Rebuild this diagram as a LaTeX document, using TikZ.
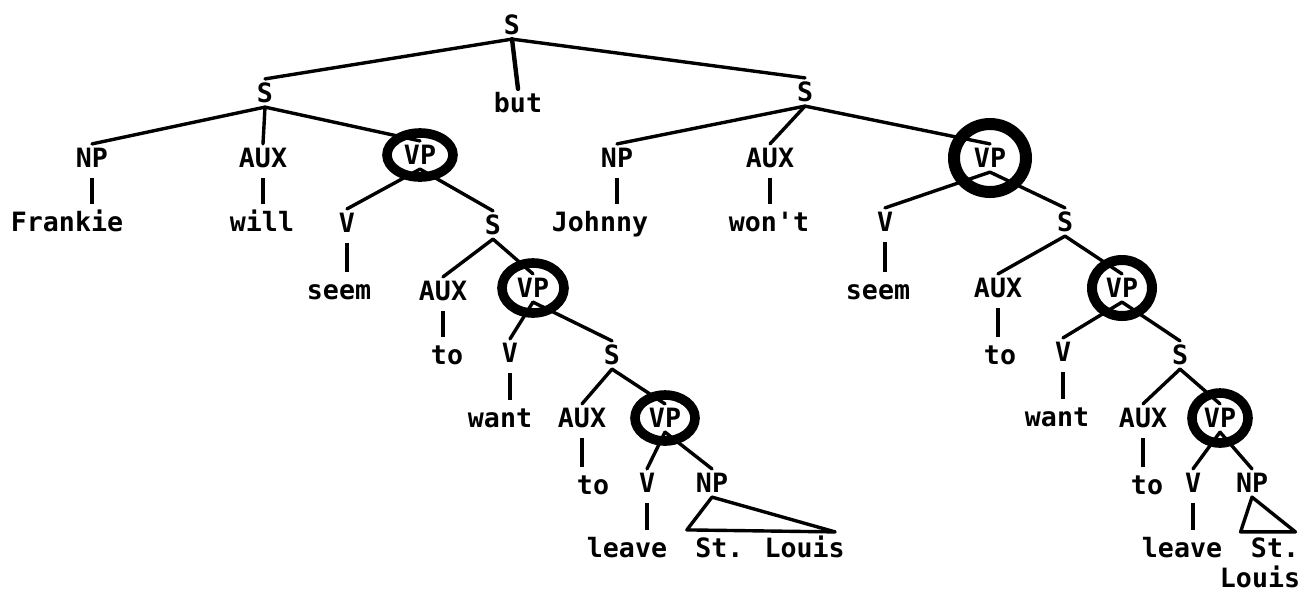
\documentclass[tikz,border=0pt]{standalone}
\usepackage{fontspec}
\newfontfamily\treefont{DejaVu Sans Mono}
\usepackage{tikz}
\tikzset{
  cat/.style={
    font=\treefont\bfseries\fontsize{13.3}{15}\selectfont,
    text height=9.7pt, text depth=0pt, inner sep=2pt
  },
  branch/.style={line width=1.7pt, line cap=round, line join=round},
  stem/.style={line width=2.4pt, shorten <=3pt, shorten >=2pt},
  vpring/.style={line width=#1},
  vpring/.default=4.8pt,
}

\begin{document}
\begin{tikzpicture}[x=0.5pt, y=-0.5pt]
  \useasboundingbox (0,0) rectangle (1312,591);

  % conjoined top S
  \node[cat] (s0)  at (512,25)  {S};
  \node[cat] (but) at (518,103) {but};

  % first conjunct
  \node[cat] (sL1)     at (265,93)  {S};
  \node[cat] (npL1)    at (92,158)  {NP};
  \node[cat] (frankie) at (67,222)  {Frankie};
  \node[cat] (auxL1)   at (263,158) {AUX};
  \node[cat] (will)    at (262,222) {will};
  \node[cat] (vpL1)    at (420,155) {VP};
  \node[cat] (vL1)     at (347,223) {V};
  \node[cat] (seemL)   at (339,290) {seem};
  \node[cat] (sL2)     at (493,225) {S};
  \node[cat] (auxL2)   at (443,291) {AUX};
  \node[cat] (toL2)    at (447,355) {to};
  \node[cat] (vpL2)    at (533,288) {VP};
  \node[cat] (vL2)     at (510,353) {V};
  \node[cat] (wantL)   at (500,418) {want};
  \node[cat] (sL3)     at (612,355) {S};
  \node[cat] (auxL3)   at (582,418) {AUX};
  \node[cat] (toL3)    at (593,485) {to};
  \node[cat] (vpL3)    at (665,418) {VP};
  \node[cat] (vL3)     at (647,483) {V};
  \node[cat] (leaveL)  at (627,548) {leave};
  \node[cat] (npL3)    at (712,483) {NP};
  \node[cat] (stlL)    at (770,548) {St. Louis};

  % second conjunct
  \node[cat] (sR1)    at (805,92)   {S};
  \node[cat] (npR1)   at (617,158)  {NP};
  \node[cat] (johnny) at (600,222)  {Johnny};
  \node[cat] (auxR1)  at (770,158)  {AUX};
  \node[cat] (wont)   at (769,222)  {won\textquotesingle t};
  \node[cat] (vpR1)   at (990,158)  {VP};
  \node[cat] (vR1)    at (885,222)  {V};
  \node[cat] (seemR)  at (878,290)  {seem};
  \node[cat] (sR2)    at (1065,222) {S};
  \node[cat] (auxR2)  at (998,288)  {AUX};
  \node[cat] (toR2)   at (1000,355) {to};
  \node[cat] (vpR2)   at (1122,288) {VP};
  \node[cat] (vR2)    at (1063,352) {V};
  \node[cat] (wantR)  at (1057,417) {want};
  \node[cat] (sR3)    at (1180,355) {S};
  \node[cat] (auxR3)  at (1143,418) {AUX};
  \node[cat] (toR3)   at (1147,485) {to};
  \node[cat] (vpR3)   at (1220,418) {VP};
  \node[cat] (vR3)    at (1193,483) {V};
  \node[cat] (leaveR) at (1182,548) {leave};
  \node[cat] (npR3)   at (1252,483) {NP};
  \node[cat] (stR)    at (1275,548) {St.};
  \node[cat] (louisR) at (1260,578) {Louis};

  % branches
  \draw[branch] (s0.south) -- (sL1.north);
  \draw[branch] (s0.south) -- (sR1.north);
  \draw[branch, line width=2.2pt] (s0.south) -- (but.north);

  \draw[branch] (sL1.south) -- (npL1.north);
  \draw[branch] (sL1.south) -- (auxL1.north);
  \draw[branch] (sL1.south) -- (vpL1.north);
  \draw[branch] (vpL1.south) -- (vL1.north);
  \draw[branch] (vpL1.south) -- (sL2.north);
  \draw[branch] (sL2.south) -- (auxL2.north);
  \draw[branch] (sL2.south) -- (vpL2.north);
  \draw[branch] (vpL2.south) -- (vL2.north);
  \draw[branch] (vpL2.south) -- (sL3.north);
  \draw[branch] (sL3.south) -- (auxL3.north);
  \draw[branch] (sL3.south) -- (vpL3.north);
  \draw[branch] (vpL3.south) -- (vL3.north);
  \draw[branch] (vpL3.south) -- (npL3.north);

  \draw[branch] (sR1.south) -- (npR1.north);
  \draw[branch] (sR1.south) -- (auxR1.north);
  \draw[branch] (sR1.south) -- (vpR1.north);
  \draw[branch] (vpR1.south) -- (vR1.north);
  \draw[branch] (vpR1.south) -- (sR2.north);
  \draw[branch] (sR2.south) -- (auxR2.north);
  \draw[branch] (sR2.south) -- (vpR2.north);
  \draw[branch] (vpR2.south) -- (vR2.north);
  \draw[branch] (vpR2.south) -- (sR3.north);
  \draw[branch] (sR3.south) -- (auxR3.north);
  \draw[branch] (sR3.south) -- (vpR3.north);
  \draw[branch] (vpR3.south) -- (vR3.north);
  \draw[branch] (vpR3.south) -- (npR3.north);

  % lexical stems
  \draw[stem] (npL1.south)  -- (npL1.south  |- frankie.north);
  \draw[stem] (auxL1.south) -- (auxL1.south |- will.north);
  \draw[stem] (vL1.south)   -- (vL1.south   |- seemL.north);
  \draw[stem] (auxL2.south) -- (auxL2.south |- toL2.north);
  \draw[stem] (vL2.south)   -- (vL2.south   |- wantL.north);
  \draw[stem] (auxL3.south) -- (auxL3.south |- toL3.north);
  \draw[stem] (vL3.south)   -- (vL3.south   |- leaveL.north);
  \draw[stem] (npR1.south)  -- (npR1.south  |- johnny.north);
  \draw[stem] (auxR1.south) -- (auxR1.south |- wont.north);
  \draw[stem] (vR1.south)   -- (vR1.south   |- seemR.north);
  \draw[stem] (auxR2.south) -- (auxR2.south |- toR2.north);
  \draw[stem] (vR2.south)   -- (vR2.south   |- wantR.north);
  \draw[stem] (auxR3.south) -- (auxR3.south |- toR3.north);
  \draw[stem] (vR3.south)   -- (vR3.south   |- leaveR.north);

  % unanalysed NPs
  \draw[branch] (npL3.south) -- ([xshift=-2pt,yshift=2pt]stlL.north west)
    -- ([xshift=-7pt,yshift=1pt]stlL.north east) -- cycle;
  \draw[branch] (npR3.south) -- ([xshift=-3pt,yshift=1pt]stR.north west)
    -- ([xshift=-4pt,yshift=1pt]stR.north east) -- cycle;

  % circled VPs
  \draw[vpring] (vpL1) ellipse [x radius=16.5pt, y radius=11pt];
  \draw[vpring] (vpL2) ellipse [x radius=15.5pt, y radius=12.5pt];
  \draw[vpring] (vpL3) ellipse [x radius=15pt, y radius=11.5pt];
  \draw[vpring=6pt] (vpR1) ellipse [x radius=18pt, y radius=17pt];
  \draw[vpring=5pt] (vpR2) ellipse [x radius=15pt, y radius=14pt];
  \draw[vpring] (vpR3) ellipse [x radius=14pt, y radius=12.5pt];
\end{tikzpicture}
\end{document}
